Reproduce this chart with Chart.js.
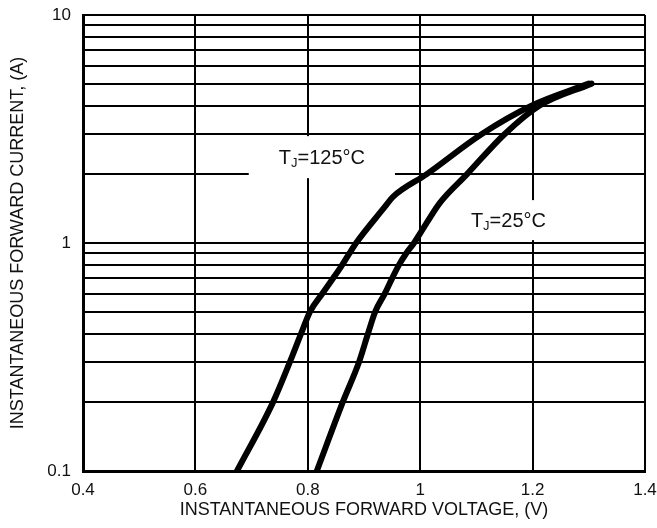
<!DOCTYPE html>
<html>
<head>
<meta charset="utf-8">
<script src="https://cdn.jsdelivr.net/npm/chart.js@4"></script>
<style>
  html, body { margin: 0; padding: 0; background: #fff; }
  #wrap { width: 657px; height: 528px; }
</style>
</head>
<body>
<div id="wrap"><canvas id="chart" width="657" height="528"></canvas></div>
<script>
// forward voltage (V) vs forward current (A)
const v125 = [0.674, 0.738, 0.768, 0.788, 0.804, 0.826, 0.845, 0.861, 0.874, 0.886, 0.938, 0.951, 1.011, 1.109, 1.198, 1.300];
const i125 = [0.1, 0.2, 0.3, 0.4, 0.5, 0.6, 0.7, 0.8, 0.9, 1.0, 1.45, 1.59, 2.0, 3.0, 4.0, 5.0];
const v25 = [0.816, 0.862, 0.891, 0.907, 0.920, 0.937, 0.950, 0.962, 0.975, 0.989, 1.011, 1.035, 1.083, 1.150, 1.212, 1.305];
const i25 = [0.1, 0.2, 0.3, 0.4, 0.5, 0.6, 0.7, 0.8, 0.9, 1.0, 1.22, 1.5, 2.0, 3.0, 4.0, 5.0];

const yTicks = [0.1, 0.2, 0.3, 0.4, 0.5, 0.6, 0.7, 0.8, 0.9, 1, 2, 3, 4, 5, 6, 7, 8, 9, 10];
const yLabels = [0.1, 1, 10];

const FONT = 'Liberation Sans, Arial, sans-serif';

function pts(xs, ys) {
    return xs.map((x, i) => ({ x: x, y: ys[i] }));
}

// curve labels: T + subscript J + rest, on a white box
const curveLabels = [
    { x: 0.825, y: 2.38, rest: '=125°C', padX: 30, padY: 21 },
    { x: 1.157, y: 1.26, rest: '=25°C', padX: 22, padY: 20 }
];

const labelPlugin = {
    id: 'curveLabels',
    beforeDatasetsDraw(chart) {
        const ctx = chart.ctx;
        const xs = chart.scales.x, ys = chart.scales.y;
        ctx.save();
        curveLabels.forEach(l => {
            const cx = xs.getPixelForValue(l.x);
            const cy = ys.getPixelForValue(l.y);
            ctx.font = '20px ' + FONT;
            const wT = ctx.measureText('T').width;
            const wR = ctx.measureText(l.rest).width;
            ctx.font = '13px ' + FONT;
            const wJ = ctx.measureText('J').width;
            const w = wT + wJ + wR;
            const x0 = cx - w / 2;
            ctx.fillStyle = '#fff';
            ctx.fillRect(x0 - l.padX, cy - l.padY, w + 2 * l.padX, 2 * l.padY);
            ctx.fillStyle = '#111';
            ctx.textBaseline = 'alphabetic';
            ctx.textAlign = 'left';
            const base = cy + 7;
            ctx.font = '20px ' + FONT;
            ctx.fillText('T', x0, base);
            ctx.font = '13px ' + FONT;
            ctx.fillText('J', x0 + wT, base + 3);
            ctx.font = '20px ' + FONT;
            ctx.fillText(l.rest, x0 + wT + wJ, base);
        });
        ctx.restore();
    }
};

const curveStyle = {
    borderColor: '#000',
    borderWidth: 6,
    pointRadius: 0,
    showLine: true,
    fill: false,
    cubicInterpolationMode: 'monotone',
    borderCapStyle: 'round',
    borderJoinStyle: 'round'
};

// keep the plot box where the reference has it
function noPad(s) {
    s.paddingTop = 0;
    s.paddingRight = 0;
    s.paddingBottom = 0;
    s.paddingLeft = 0;
}

new Chart(document.getElementById('chart').getContext('2d'), {
    type: 'scatter',
    data: {
        datasets: [
            Object.assign({ label: 'TJ=125°C', data: pts(v125, i125) }, curveStyle),
            Object.assign({ label: 'TJ=25°C', data: pts(v25, i25) }, curveStyle)
        ]
    },
    options: {
        responsive: false,
        animation: false,
        layout: { padding: { top: 15, right: 12, left: 0, bottom: 0 } },
        plugins: {
            legend: { display: false },
            tooltip: { enabled: false }
        },
        scales: {
            x: {
                type: 'linear',
                min: 0.4,
                max: 1.4,
                afterFit: s => { s.height = 57; noPad(s); },
                ticks: {
                    stepSize: 0.2,
                    padding: 9,
                    color: '#111',
                    font: { family: FONT, size: 17 },
                    callback: v => String(Math.round(v * 10) / 10)
                },
                grid: { color: '#000', lineWidth: 2, drawTicks: false },
                border: { color: '#000', width: 3 },
                title: {
                    display: true,
                    text: 'INSTANTANEOUS FORWARD VOLTAGE, (V)',
                    color: '#111',
                    font: { family: FONT, size: 18 },
                    padding: { top: 4, bottom: 7 }
                }
            },
            y: {
                type: 'logarithmic',
                min: 0.1,
                max: 10,
                afterFit: s => { s.width = 83; noPad(s); },
                afterBuildTicks: s => { s.ticks = yTicks.map(v => ({ value: v })); },
                ticks: {
                    autoSkip: false,
                    padding: 12,
                    color: '#111',
                    font: { family: FONT, size: 17 },
                    callback: v => yLabels.includes(v) ? String(v) : ''
                },
                grid: { color: '#000', lineWidth: 2, drawTicks: false },
                border: { color: '#000', width: 3 },
                title: {
                    display: true,
                    text: 'INSTANTANEOUS FORWARD CURRENT, (A)',
                    color: '#111',
                    font: { family: FONT, size: 18 },
                    padding: { top: 7, bottom: 4 }
                }
            }
        }
    },
    plugins: [labelPlugin]
});
</script>
</body>
</html>
